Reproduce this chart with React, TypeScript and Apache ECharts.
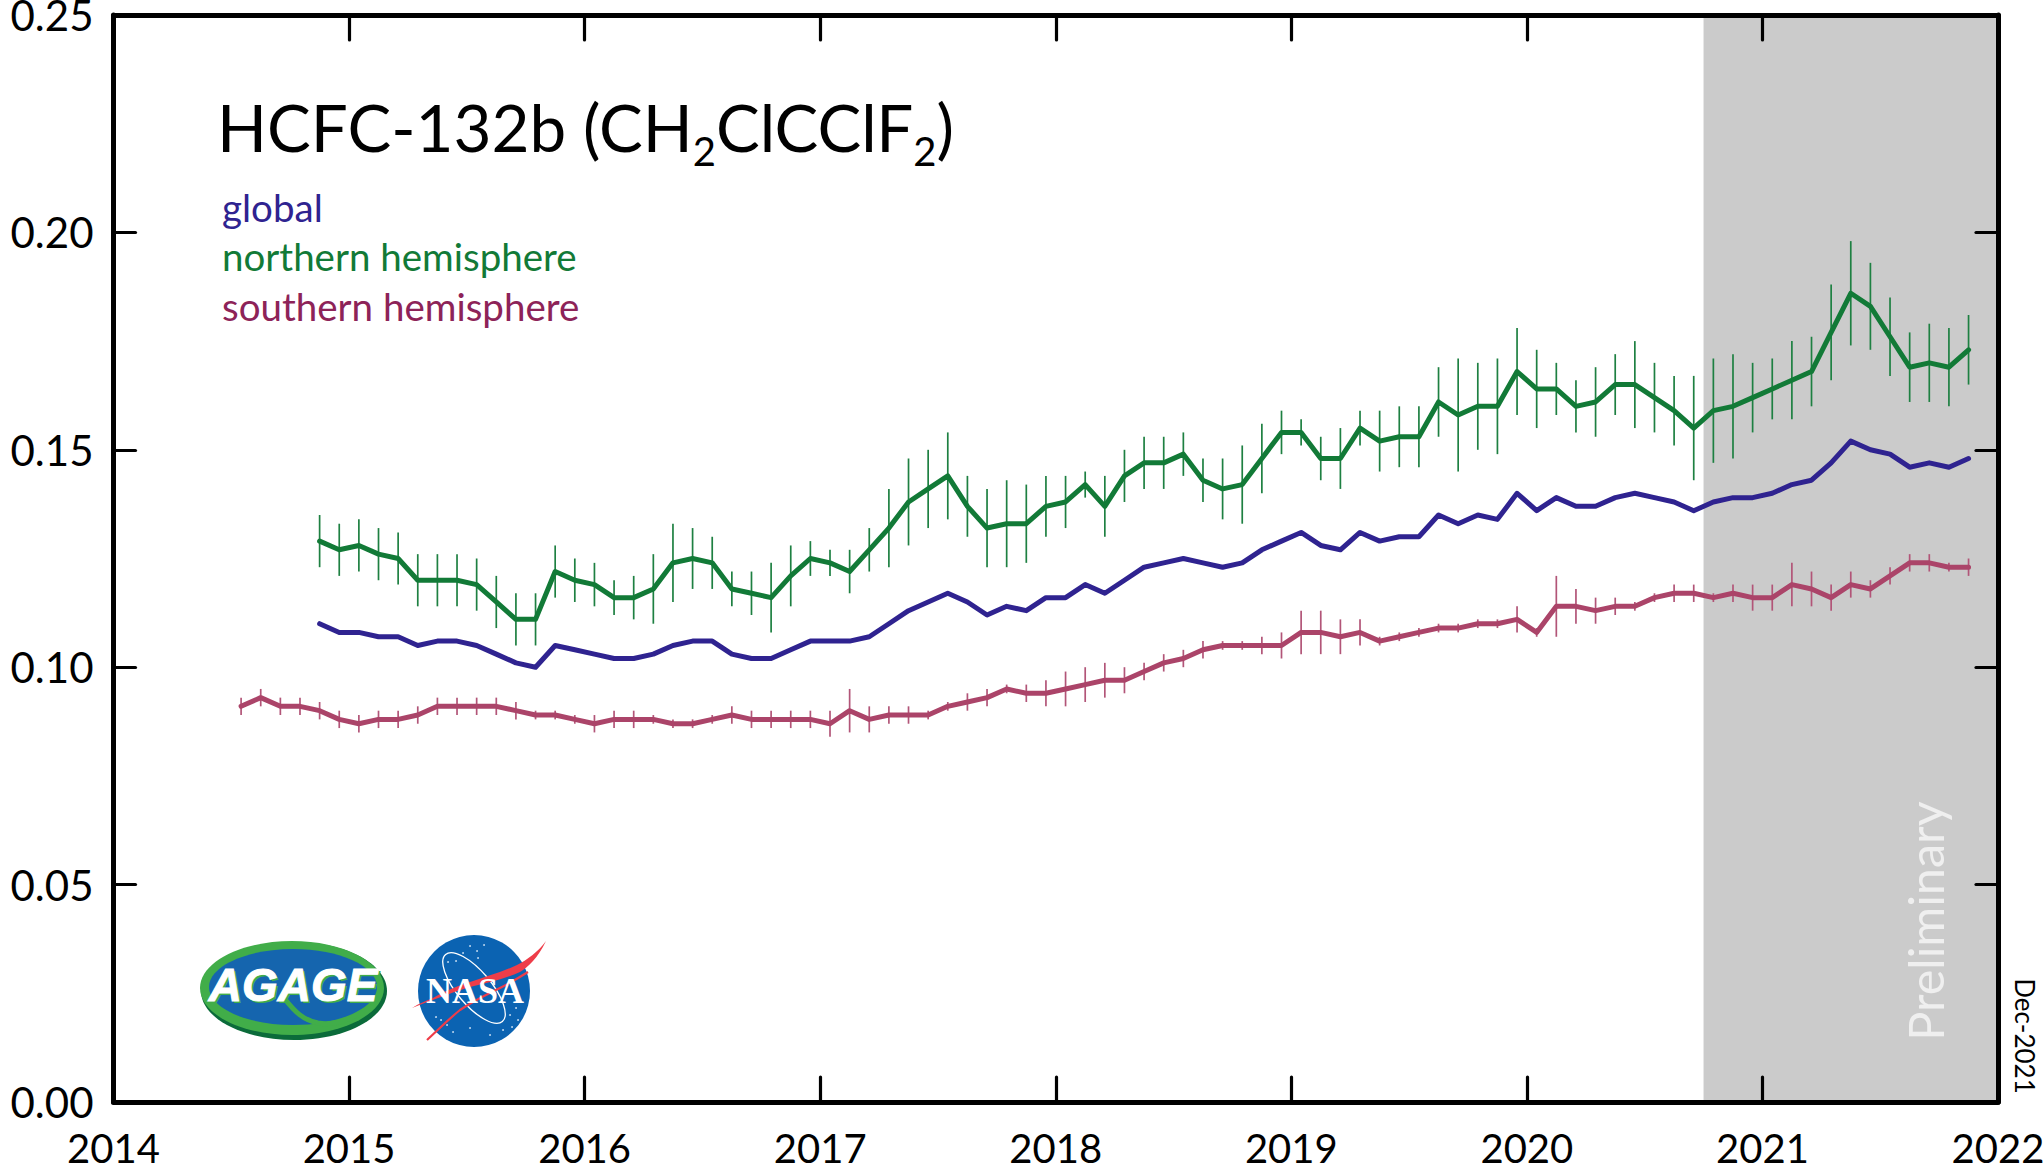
import React, { useEffect, useRef } from "react";
import * as echarts from "echarts";

const yearTicks = [2014, 2015, 2016, 2017, 2018, 2019, 2020, 2021, 2022];
const FONT = "Lato";

const northValues = [
  0.129, 0.127,
  0.128, 0.126, 0.125, 0.12, 0.12, 0.12, 0.119, 0.115, 0.111, 0.111, 0.122, 0.12,
  0.119, 0.116, 0.116, 0.118, 0.124, 0.125, 0.124, 0.118, 0.117, 0.116, 0.121, 0.125,
  0.124, 0.122, 0.127, 0.132, 0.138, 0.141, 0.144, 0.137, 0.132, 0.133, 0.133, 0.137,
  0.138, 0.142, 0.137, 0.144, 0.147, 0.147, 0.149, 0.143, 0.141, 0.142, 0.148, 0.154,
  0.154, 0.148, 0.148, 0.155, 0.152, 0.153, 0.153, 0.161, 0.158, 0.16, 0.16, 0.168,
  0.164, 0.164, 0.16, 0.161, 0.165, 0.165, 0.162, 0.159, 0.155, 0.159, 0.16, 0.162,
  0.164, 0.166, 0.168, 0.177, 0.186, 0.183, 0.176, 0.169, 0.17, 0.169, 0.173,
];
const northErrors = [
  0.006, 0.006,
  0.006, 0.006, 0.006, 0.006, 0.006, 0.006, 0.006, 0.006, 0.006, 0.006, 0.006, 0.005,
  0.005, 0.004, 0.005, 0.008, 0.009, 0.007, 0.006, 0.004, 0.005, 0.008, 0.007, 0.004,
  0.003, 0.005, 0.005, 0.009, 0.01, 0.009, 0.01, 0.007, 0.009, 0.01, 0.009, 0.007,
  0.006, 0.003, 0.007, 0.006, 0.006, 0.006, 0.005, 0.005, 0.007, 0.009, 0.008, 0.005,
  0.003, 0.005, 0.007, 0.004, 0.007, 0.007, 0.007, 0.008, 0.013, 0.01, 0.011, 0.01,
  0.009, 0.006, 0.006, 0.008, 0.007, 0.01, 0.008, 0.008, 0.012, 0.012, 0.012, 0.008,
  0.007, 0.009, 0.008, 0.011, 0.012, 0.01, 0.009, 0.008, 0.009, 0.009, 0.008,
];
const globalValues = [
  0.11, 0.108,
  0.108, 0.107, 0.107, 0.105, 0.106, 0.106, 0.105, 0.103, 0.101, 0.1, 0.105, 0.104,
  0.103, 0.102, 0.102, 0.103, 0.105, 0.106, 0.106, 0.103, 0.102, 0.102, 0.104, 0.106,
  0.106, 0.106, 0.107, 0.11, 0.113, 0.115, 0.117, 0.115, 0.112, 0.114, 0.113, 0.116,
  0.116, 0.119, 0.117, 0.12, 0.123, 0.124, 0.125, 0.124, 0.123, 0.124, 0.127, 0.129,
  0.131, 0.128, 0.127, 0.131, 0.129, 0.13, 0.13, 0.135, 0.133, 0.135, 0.134, 0.14,
  0.136, 0.139, 0.137, 0.137, 0.139, 0.14, 0.139, 0.138, 0.136, 0.138, 0.139, 0.139,
  0.14, 0.142, 0.143, 0.147, 0.152, 0.15, 0.149, 0.146, 0.147, 0.146, 0.148,
];
const southValues = [
  0.091, 0.093, 0.091, 0.091, 0.09, 0.088,
  0.087, 0.088, 0.088, 0.089, 0.091, 0.091, 0.091, 0.091, 0.09, 0.089, 0.089, 0.088,
  0.087, 0.088, 0.088, 0.088, 0.087, 0.087, 0.088, 0.089, 0.088, 0.088, 0.088, 0.088,
  0.087, 0.09, 0.088, 0.089, 0.089, 0.089, 0.091, 0.092, 0.093, 0.095, 0.094, 0.094,
  0.095, 0.096, 0.097, 0.097, 0.099, 0.101, 0.102, 0.104, 0.105, 0.105, 0.105, 0.105,
  0.108, 0.108, 0.107, 0.108, 0.106, 0.107, 0.108, 0.109, 0.109, 0.11, 0.11, 0.111,
  0.108, 0.114, 0.114, 0.113, 0.114, 0.114, 0.116, 0.117, 0.117, 0.116, 0.117, 0.116,
  0.116, 0.119, 0.118, 0.116, 0.119, 0.118, 0.121, 0.124, 0.124, 0.123, 0.123,
];
const southErrors = [
  0.002, 0.002, 0.002, 0.002, 0.002, 0.002,
  0.002, 0.002, 0.002, 0.002, 0.002, 0.002, 0.002, 0.002, 0.002, 0.001, 0.001, 0.001,
  0.002, 0.002, 0.002, 0.001, 0.001, 0.001, 0.001, 0.002, 0.002, 0.002, 0.002, 0.002,
  0.003, 0.005, 0.003, 0.002, 0.002, 0.001, 0.001, 0.002, 0.002, 0.001, 0.002, 0.003,
  0.004, 0.004, 0.004, 0.003, 0.002, 0.002, 0.002, 0.002, 0.001, 0.001, 0.002, 0.003,
  0.005, 0.005, 0.004, 0.003, 0.001, 0.001, 0.001, 0.001, 0.001, 0.001, 0.001, 0.003,
  0.001, 0.007, 0.004, 0.003, 0.002, 0.001, 0.001, 0.002, 0.002, 0.001, 0.002, 0.003,
  0.003, 0.005, 0.004, 0.003, 0.003, 0.002, 0.002, 0.002, 0.002, 0.001, 0.002,
];
const preliminaryRange = [2020.75, 2022];

// first month of each series, in months after January 2014
const NORTH_START = 10;
const SOUTH_START = 6;

const toTime = (index: number, start: number) => 2014 + (start + index + 0.5) / 12;
const pairs = (values: number[], start: number) => values.map((v, i) => [toTime(i, start), v]);
const bars = (values: number[], errors: number[], start: number) =>
  values.map((v, i) => [toTime(i, start), v - errors[i], v + errors[i]]);

const COLORS = {
  north: "#127A37",
  global: "#2F2390",
  south: "#AB4469",
  southBar: "#B25578",
  northLegend: "#127A37",
  southLegend: "#8D2358",
};

echarts.graphic.registerShape(
  "redSwoosh",
  echarts.graphic.extendPath(
    "M546 941 C 538 958 528 967 520 972 C 505 979 487 983 470 987 C 450 993 430 1001 412 1008 C 420 1003 428 1000 433 998 C 445 991 455 987 467 983 C 485 977 502 972 517 965 C 527 960 538 952 546 941 Z",
    {}
  )
);
echarts.graphic.registerShape(
  "redThin",
  echarts.graphic.extendPath("M427 1040 C 440 1028 450 1018 460 1010 C 475 1000 488 994 500 988 C 510 983 520 977 528 972", {})
);
echarts.graphic.registerShape(
  "leafVein",
  echarts.graphic.extendPath("M284 998 C 295 1012 303 1020 318 1023 C 335 1026 352 1020 372 1006", {})
);

const nasaStars = [
  [470, 946], [477, 951], [484, 945], [463, 953], [478, 958], [448, 962], [456, 961], [510, 1015],
  [516, 1008], [518, 1020], [512, 1027], [453, 1032], [441, 1020], [436, 1017], [447, 1025], [470, 1028], [490, 1035], [503, 1030],
];

function errorBarSeries(data: number[][], color: string, z: number) {
  return {
    type: "custom",
    z,
    silent: true,
    clip: false,
    encode: { x: 0, y: [1, 2] },
    data,
    renderItem: (_: unknown, api: any) => {
      const lo = api.coord([api.value(0), api.value(1)]);
      const hi = api.coord([api.value(0), api.value(2)]);
      return {
        type: "line",
        shape: { x1: lo[0], y1: lo[1], x2: hi[0], y2: hi[1] },
        style: { stroke: color, lineWidth: 1.7 },
      };
    },
  };
}

function lineSeries(name: string, data: number[][], color: string, z: number) {
  return {
    type: "line",
    name,
    z,
    data,
    symbol: "none",
    silent: true,
    lineStyle: { color, width: 5, cap: "round", join: "round" },
  };
}

const buildLabels = () => [
  {
    type: "text",
    x: 217,
    y: 126,
    z: 20,
    style: {
      text: "{a|HCFC-132b (CH}{s|2}{a|ClCClF}{s|2}{a|)}",
      fill: "#000",
      textVerticalAlign: "middle",
      rich: {
        a: { fontFamily: FONT, fontSize: 65.5, fill: "#000", color: "#000" },
        s: { fontFamily: FONT, fontSize: 40, fill: "#000", color: "#000", padding: [50, 0, 0, 0] },
      },
    },
  },
  { type: "text", x: 222, y: 207, z: 20, style: { text: "global", fontFamily: FONT, fontSize: 38.5, fill: COLORS.global, textVerticalAlign: "middle" } },
  { type: "text", x: 222, y: 256, z: 20, style: { text: "northern hemisphere", fontFamily: FONT, fontSize: 38.5, fill: COLORS.northLegend, textVerticalAlign: "middle" } },
  { type: "text", x: 222, y: 306, z: 20, style: { text: "southern hemisphere", fontFamily: FONT, fontSize: 38.5, fill: COLORS.southLegend, textVerticalAlign: "middle" } },
  { type: "text", x: 1925, y: 921, rotation: Math.PI / 2, z: 20, style: { text: "Preliminary", fontFamily: FONT, fontSize: 48.5, fontWeight: 400, fill: "#EFEFEF", textAlign: "center", textVerticalAlign: "middle" } },
  { type: "text", x: 2025, y: 1036, rotation: -Math.PI / 2, z: 20, style: { text: "Dec-2021", fontFamily: FONT, fontSize: 26, fill: "#000", textAlign: "center", textVerticalAlign: "middle" } },
];

const agageStyle = {
  text: "AGAGE",
  fontFamily: "Liberation Sans",
  fontSize: 46,
  fontWeight: "bold",
  fontStyle: "italic",
  textAlign: "center",
  textVerticalAlign: "middle",
};

const buildLogos = () => [
  { type: "ellipse", z: 20, shape: { cx: 294, cy: 991, rx: 93, ry: 49 }, style: { fill: "#0B6B3A" } },
  { type: "ellipse", z: 20, shape: { cx: 292, cy: 988, rx: 92, ry: 47 }, style: { fill: "#41AD49" } },
  { type: "ellipse", z: 20, shape: { cx: 293, cy: 987, rx: 84, ry: 38 }, style: { fill: "#1565AE" } },
  { type: "leafVein", z: 20, style: { fill: "none", stroke: "#41AD49", lineWidth: 5 } },
  { type: "text", x: 295, y: 987, z: 21, style: { ...agageStyle, fill: "#41AD49" } },
  { type: "text", x: 293, y: 985, z: 21, style: { ...agageStyle, fill: "#fff", stroke: "#fff", lineWidth: 1 } },
  { type: "circle", z: 20, shape: { cx: 474, cy: 991, r: 56 }, style: { fill: "#0B63B2" } },
  ...nasaStars.map(([cx, cy]) => ({ type: "circle", z: 20, shape: { cx, cy, r: 0.9 }, style: { fill: "#CFE2F5" } })),
  { type: "ellipse", z: 20, x: 474, y: 988, rotation: -0.87, shape: { cx: 0, cy: 0, rx: 44, ry: 17 }, style: { fill: "none", stroke: "#fff", lineWidth: 1.3 } },
  { type: "redSwoosh", z: 20, style: { fill: "#EE3D49" } },
  { type: "redThin", z: 20, style: { fill: "none", stroke: "#EE3D49", lineWidth: 2.2 } },
  {
    type: "text",
    x: 475,
    y: 991,
    z: 21,
    style: { text: "NASA", fontFamily: "Liberation Serif", fontSize: 36, fontWeight: "bold", fill: "#fff", textAlign: "center", textVerticalAlign: "middle" },
  },
];

function buildOption() {
  const axisLine = { show: true, onZero: false, lineStyle: { color: "#000", width: 5, cap: "round" } };
  const axisTick = (length: number) => ({ show: true, inside: true, length, lineStyle: { color: "#000", width: 3.2, cap: "round" } });
  const xBase = { type: "value", min: 2014, max: 2022, interval: 1, z: 3, splitLine: { show: false } };
  const yBase = { type: "value", min: 0, max: 0.25, interval: 0.05, z: 3, splitLine: { show: false } };
  return {
    animation: false,
    backgroundColor: "#fff",
    grid: { left: 113.5, right: 46, top: 15, bottom: 69, containLabel: false, outerBoundsMode: "none" },
    xAxis: [
      {
        ...xBase,
        position: "bottom",
        axisLine,
        axisTick: axisTick(25),
        axisLabel: {
          margin: 26,
          color: "#000",
          fontFamily: FONT,
          fontSize: 40,
          hideOverlap: false,
          formatter: (v: number) => String(yearTicks.find((t) => t === v) ?? v),
        },
      },
      { ...xBase, position: "top", axisLine, axisTick: axisTick(25), axisLabel: { show: false } },
    ],
    yAxis: [
      {
        ...yBase,
        position: "left",
        axisLine,
        axisTick: axisTick(22),
        axisLabel: { margin: 20, color: "#000", fontFamily: FONT, fontSize: 42, padding: [3, 0, 0, 0], formatter: (v: number) => v.toFixed(2) },
      },
      { ...yBase, position: "right", axisLine, axisTick: axisTick(22), axisLabel: { show: false } },
    ],
    series: [
      {
        type: "custom",
        name: "preliminary",
        z: 1,
        silent: true,
        encode: { x: [0, 1] },
        data: [preliminaryRange],
        renderItem: (_: unknown, api: any) => {
          const a = api.coord([api.value(0), 0.25]);
          const b = api.coord([api.value(1), 0]);
          return { type: "rect", shape: { x: a[0], y: a[1], width: b[0] - a[0], height: b[1] - a[1] }, style: { fill: "#CBCBCB" } };
        },
      },
      errorBarSeries(bars(northValues, northErrors, NORTH_START), "#1E8042", 5),
      errorBarSeries(bars(southValues, southErrors, SOUTH_START), COLORS.southBar, 5),
      lineSeries("northern hemisphere", pairs(northValues, NORTH_START), COLORS.north, 6),
      lineSeries("global", pairs(globalValues, NORTH_START), COLORS.global, 6),
      lineSeries("southern hemisphere", pairs(southValues, SOUTH_START), COLORS.south, 6),
    ],
    graphic: { elements: [...buildLabels(), ...buildLogos()] },
  };
}

export default function App() {
  const ref = useRef<HTMLDivElement>(null);
  useEffect(() => {
    const chart = echarts.init(ref.current as HTMLDivElement, undefined, { renderer: "svg" });
    chart.setOption(buildOption() as any);
    return () => chart.dispose();
  }, []);
  return <div ref={ref} style={{ position: "absolute", left: 0, top: 0, width: 2044, height: 1171 }} />;
}
